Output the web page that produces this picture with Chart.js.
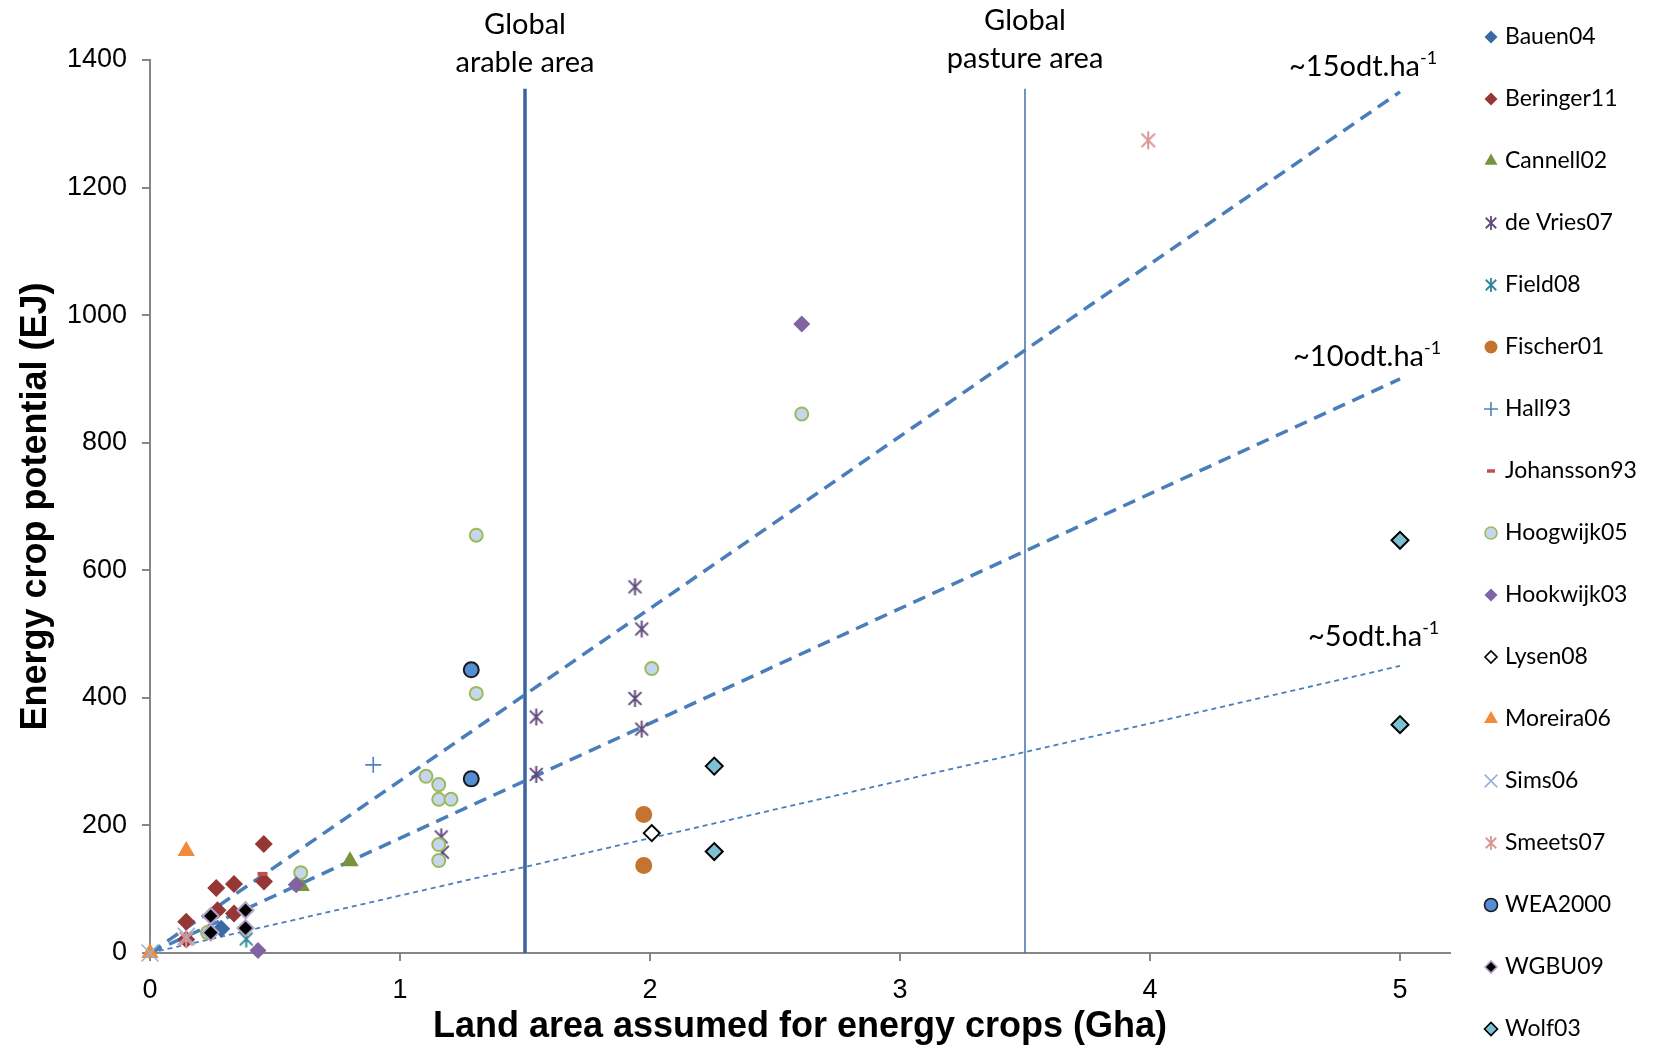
<!DOCTYPE html>
<html>
<head>
<meta charset="utf-8">
<title>Energy crop potential vs land area</title>
<script src="https://cdn.jsdelivr.net/npm/chart.js@4.4.1/dist/chart.umd.min.js"></script>
<style>
  html, body { margin: 0; padding: 0; background: #fff; }
  #wrap { width: 1653px; height: 1059px; }
</style>
</head>
<body>
<div id="wrap"><canvas id="cropChart" width="1653" height="1059"></canvas></div>
<script>
// land area (Gha) , energy crop potential (EJ) per study
const bauen04 = [[0.285, 38]];
const beringer11 = [[0.455, 171], [0.265, 102], [0.336, 108], [0.456, 112], [0.145, 49], [0.27, 67], [0.336, 62], [0.145, 21]];
const cannell02 = [[0.80, 144], [0.605, 105]];
const deVries07 = [[1.94, 574], [1.967, 508], [1.94, 399], [1.967, 351], [1.545, 370], [1.545, 280], [1.165, 182], [1.17, 158]];
const field08 = [[0.385, 22]];
const fischer01 = [[1.975, 217], [1.975, 137]];
const hall93 = [[0.893, 295]];
const johansson93 = [[0.45, 124]];
const hoogwijk05 = [[1.305, 655], [1.305, 407], [2.007, 446], [2.607, 845], [1.104, 277], [1.155, 264], [1.155, 241], [1.204, 241], [1.155, 170], [1.155, 145], [0.603, 126], [0.23, 32]];
const hookwijk03 = [[2.607, 986], [0.585, 107], [0.432, 4]];
const lysen08 = [[2.007, 188]];
const moreira06 = [[0.145, 160], [0, 0]];
const sims06 = [[0.145, 26], [0, 0]];
const smeets07 = [[3.993, 1274], [0.145, 22]];
const wea2000 = [[1.285, 444], [1.285, 273]];
const wgbu09 = [[0.243, 58], [0.243, 32], [0.382, 67], [0.382, 39]];
const wolf03 = [[2.257, 293], [2.257, 159], [5.0, 647], [5.0, 358]];

// yield lines (odt per ha) and land area limits
const trend15 = [[0, 0], [5, 1350]];
const trend10 = [[0, 0], [5, 900]];
const trend5 = [[0, 0], [5, 450]];
const arableArea = [[1.5, 0], [1.5, 1355]];
const pastureArea = [[3.5, 0], [3.5, 1355]];

const xTicks = [0, 1, 2, 3, 4, 5];
const yTicks = [0, 200, 400, 600, 800, 1000, 1200, 1400];

// excel-like asterisk: an X with a vertical bar
function asterisk(color, size, lw) {
  const c = document.createElement('canvas');
  c.width = c.height = size + 4;
  const g = c.getContext('2d');
  const m = c.width / 2, r = size / 2, d = r * 0.75;
  g.strokeStyle = color;
  g.lineWidth = lw;
  g.beginPath();
  g.moveTo(m - d, m - d); g.lineTo(m + d, m + d);
  g.moveTo(m + d, m - d); g.lineTo(m - d, m + d);
  g.moveTo(m, m - r); g.lineTo(m, m + r);
  g.stroke();
  return c;
}

const toPts = arr => arr.map(p => ({x: p[0], y: p[1]}));

const series = [
  {name: 'Bauen04', data: bauen04, style: 'rectRot', r: 9, lr: 6.5, fill: '#3B6AA3', border: '#3B6AA3', bw: 0},
  {name: 'Beringer11', data: beringer11, style: 'rectRot', r: 9, lr: 6.5, fill: '#953735', border: '#953735', bw: 0},
  {name: 'Cannell02', data: cannell02, style: 'triangle', r: 10, lr: 7.5, fill: '#77933C', border: '#77933C', bw: 0},
  {name: 'de Vries07', data: deVries07, style: asterisk('#604A7B', 17, 2), legendStyle: asterisk('#604A7B', 14, 1.8), r: 8, lr: 7, fill: '#604A7B', border: '#604A7B', bw: 0},
  {name: 'Field08', data: field08, style: asterisk('#31859C', 17, 2), legendStyle: asterisk('#31859C', 14, 1.8), r: 8, lr: 7, fill: '#31859C', border: '#31859C', bw: 0},
  {name: 'Fischer01', data: fischer01, style: 'circle', r: 8.5, lr: 6.5, fill: '#C47430', border: '#C47430', bw: 0},
  {name: 'Hall93', data: hall93, style: 'cross', r: 8, lr: 7, fill: '#4F81BD', border: '#4F81BD', bw: 1.6},
  {name: 'Johansson93', data: johansson93, style: 'line', r: 5, lr: 4, fill: '#C0504D', border: '#C0504D', bw: 4},
  {name: 'Hoogwijk05', data: hoogwijk05, style: 'circle', r: 6.5, lr: 6, fill: '#C6D6EE', border: '#9BBB59', bw: 2},
  {name: 'Hookwijk03', data: hookwijk03, style: 'rectRot', r: 8.5, lr: 6.5, fill: '#8064A2', border: '#8064A2', bw: 0},
  {name: 'Lysen08', data: lysen08, style: 'rectRot', r: 8, lr: 6, fill: '#FFFFFF', border: '#000000', bw: 2},
  {name: 'Moreira06', data: moreira06, style: 'triangle', r: 10, lr: 8, fill: '#EE8B3D', border: '#EE8B3D', bw: 0},
  {name: 'Sims06', data: sims06, style: 'crossRot', r: 12, lr: 9, fill: '#95B3D7', border: '#95B3D7', bw: 1.6},
  {name: 'Smeets07', data: smeets07, style: asterisk('#D99694', 18, 2), legendStyle: asterisk('#D99694', 14, 1.8), r: 9, lr: 7, fill: '#D99694', border: '#D99694', bw: 0},
  {name: 'WEA2000', data: wea2000, style: 'circle', r: 7.5, lr: 6.5, fill: '#558ED5', border: '#1A1A1A', bw: 2},
  {name: 'WGBU09', data: wgbu09, style: 'rectRot', r: 8, lr: 6, fill: '#000000', border: '#B3A2C7', bw: 2},
  {name: 'Wolf03', data: wolf03, style: 'rectRot', r: 8.5, lr: 6.5, fill: '#7CC0D4', border: '#000000', bw: 2}
];

const datasets = series.map((s, i) => ({
  label: s.name,
  data: toPts(s.data),
  pointStyle: s.style,
  pointRadius: s.r,
  pointHoverRadius: s.r,
  backgroundColor: s.fill,
  borderColor: s.border,
  borderWidth: s.bw,
  showLine: false,
  clip: false,
  order: 50 - i
}));

function refLine(label, data, width, dash, color) {
  return {
    label: label, data: toPts(data), showLine: true, pointRadius: 0, pointHoverRadius: 0,
    borderColor: color, borderWidth: width, borderDash: dash, backgroundColor: color,
    fill: false, clip: false, order: 100
  };
}
datasets.push(refLine('15odt', trend15, 3.5, [13, 8], '#4A7EBB'));
datasets.push(refLine('10odt', trend10, 3.5, [13, 8], '#4A7EBB'));
datasets.push(refLine('5odt', trend5, 1.8, [5, 4], '#4A7EBB'));
datasets.push(refLine('arable', arableArea, 3.5, [], '#3A63A0'));
datasets.push(refLine('pasture', pastureArea, 1.5, [], '#4670AA'));

// text labels on the plot and the legend column on the right
const annotate = {
  id: 'annotate',
  afterDraw(chart) {
    const ctx = chart.ctx;
    const xs = chart.scales.x;
    ctx.save();
    ctx.fillStyle = '#000';
    ctx.textBaseline = 'middle';
    ctx.textAlign = 'center';
    ctx.font = '29px Lato';
    const xa = xs.getPixelForValue(1.5), xp = xs.getPixelForValue(3.5);
    ctx.fillText('Global', xa, 25);
    ctx.fillText('arable area', xa, 63);
    ctx.fillText('Global', xp, 21);
    ctx.fillText('pasture area', xp, 59);

    const yieldLabels = [['~15odt.ha', 1289, 67], ['~10odt.ha', 1293, 357], ['~5odt.ha', 1308, 637]];
    ctx.textAlign = 'left';
    yieldLabels.forEach(([t, x, y]) => {
      ctx.font = '29px Lato';
      ctx.fillText(t, x, y);
      const w = ctx.measureText(t).width;
      ctx.font = '18px Lato';
      ctx.fillText('-1', x + w, y - 9);
    });

    // legend
    ctx.font = '23px Lato';
    const drawPoint = Chart.helpers && Chart.helpers.drawPoint;
    series.forEach((s, i) => {
      const y = 37 + i * 62;
      const mx = 1491;
      ctx.save();
      ctx.fillStyle = s.fill;
      ctx.strokeStyle = s.border;
      const lw = s.bw > 0 ? (s.style === 'line' ? 3.5 : 1.6) : 0;
      ctx.lineWidth = lw;
      if (drawPoint) {
        drawPoint(ctx, {pointStyle: s.legendStyle || s.style, radius: s.lr, rotation: 0, borderWidth: lw}, mx, y);
      }
      ctx.restore();
      ctx.fillStyle = '#000';
      ctx.textAlign = 'left';
      ctx.fillText(s.name, 1505, y);
    });
    ctx.restore();
  }
};

const axisGray = '#868686';

new Chart(document.getElementById('cropChart').getContext('2d'), {
  type: 'scatter',
  data: { datasets: datasets },
  options: {
    responsive: false,
    animation: false,
    layout: { padding: { left: 0, top: 60, right: 203, bottom: 0 } },
    plugins: { legend: { display: false }, tooltip: { enabled: false } },
    scales: {
      x: {
        type: 'linear', min: 0, max: 5.2,
        afterFit(scale) { scale.height = 106; },
        afterBuildTicks(scale) { scale.ticks = xTicks.map(v => ({value: v})); },
        ticks: { stepSize: 1, includeBounds: false, padding: 13, color: '#000', font: { family: 'Liberation Sans', size: 27 }, callback: v => String(v) },
        grid: { display: true, drawOnChartArea: false, drawTicks: true, tickLength: 8, color: axisGray, lineWidth: 2 },
        border: { display: true, color: axisGray, width: 2 },
        title: { display: true, text: 'Land area assumed for energy crops (Gha)', color: '#000', font: { family: 'Liberation Sans', size: 36, weight: 'bold' }, padding: { top: 0, bottom: 10 } }
      },
      y: {
        type: 'linear', min: 0, max: 1400,
        afterFit(scale) { scale.width = 150; },
        afterBuildTicks(scale) { scale.ticks = yTicks.map(v => ({value: v})); },
        ticks: { stepSize: 200, padding: 15, color: '#000', font: { family: 'Liberation Sans', size: 27 }, callback: v => String(v) },
        grid: { display: true, drawOnChartArea: false, drawTicks: true, tickLength: 8, color: axisGray, lineWidth: 2 },
        border: { display: true, color: axisGray, width: 2 },
        title: { display: true, text: 'Energy crop potential (EJ)', color: '#000', font: { family: 'Liberation Sans', size: 36, weight: 'bold' }, padding: { top: 14, bottom: 0 } }
      }
    }
  },
  plugins: [annotate]
});
</script>
</body>
</html>
